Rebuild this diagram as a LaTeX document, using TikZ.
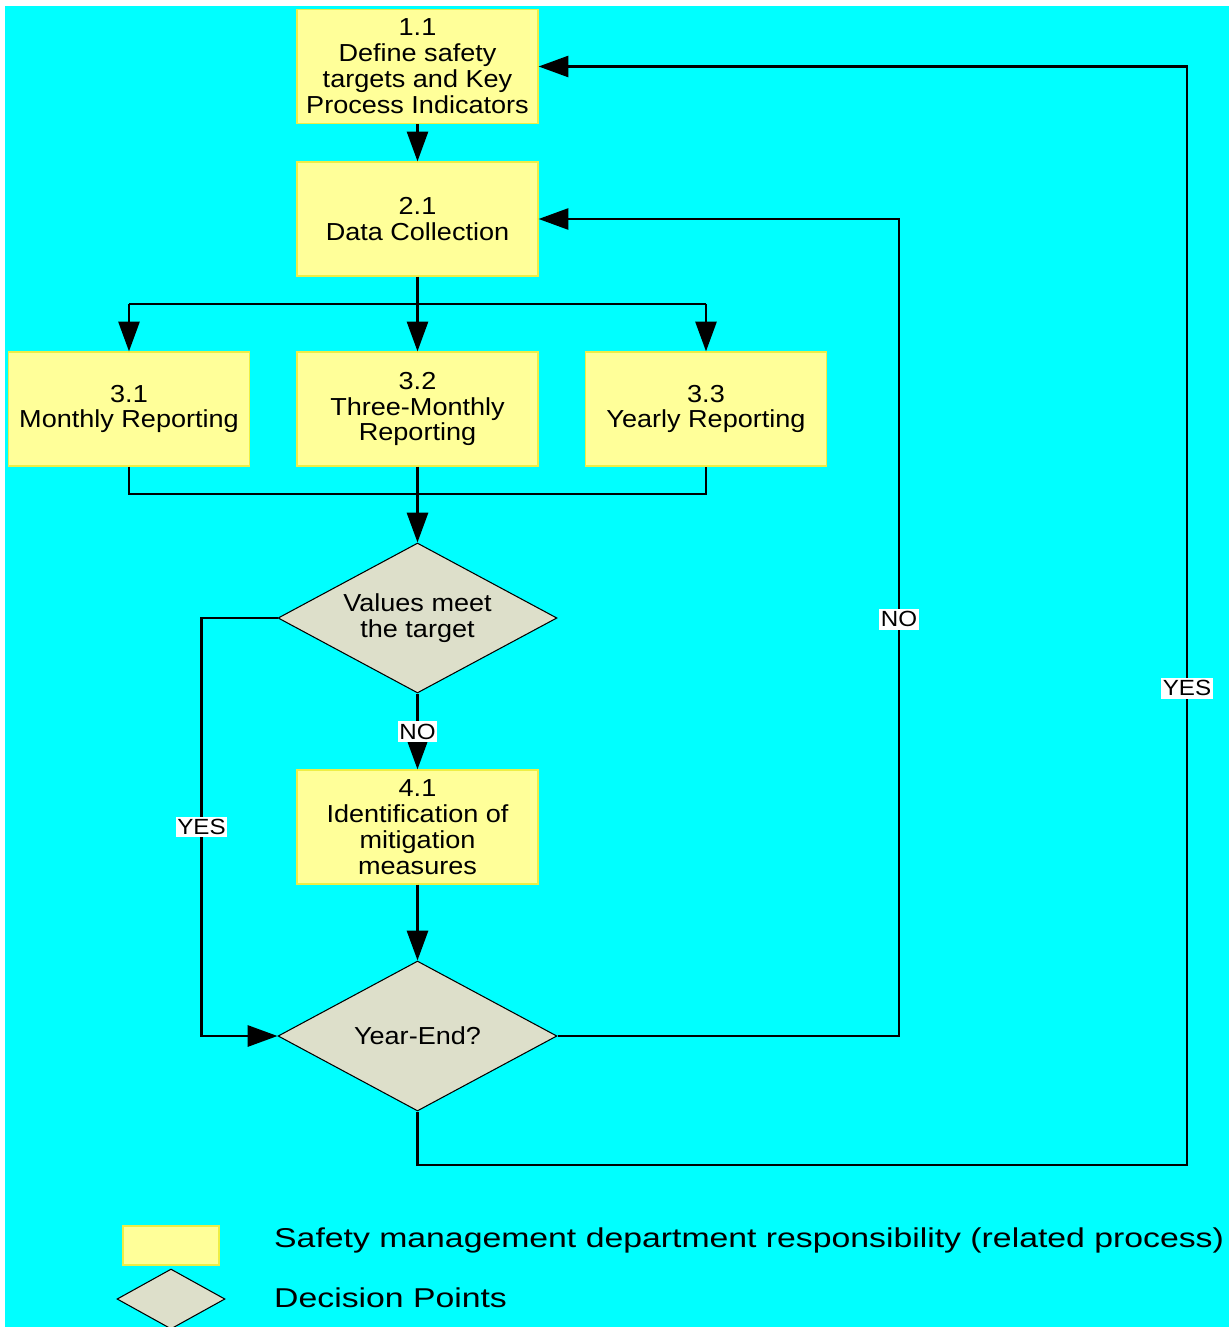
\documentclass[tikz,border=0pt]{standalone}
\usepackage{fontspec}
\setmainfont{Liberation Sans}
\newfontfamily\boxfont[FakeStretch=1.1]{Liberation Sans}
\newfontfamily\legfont[FakeStretch=1.24]{Liberation Sans}
\usetikzlibrary{shapes.geometric,arrows.meta}
\definecolor{bgcyan}{RGB}{0,255,255}
\definecolor{procfill}{RGB}{255,255,153}
\definecolor{procline}{RGB}{238,238,70}
\definecolor{decfill}{RGB}{221,223,202}

\begin{document}
\begin{tikzpicture}[x=0.02cm,y=-0.02cm,
  proc/.style={draw=procline,fill=procfill,line width=0.7pt,minimum width=4.82cm,minimum height=2.28cm,
    inner sep=0pt,align=center,font=\boxfont\fontsize{14}{14.75}\selectfont},
  dec/.style={diamond,draw=black,line width=0.6pt,fill=decfill,aspect=1.86,minimum width=5.58cm,
    minimum height=3cm,inner sep=0pt,align=center,font=\boxfont\fontsize{14}{14.75}\selectfont},
  wire/.style={line width=1.5pt},
  link/.style={wire,-{Triangle[length=17pt,width=12pt]}},
  lbl/.style={fill=white,inner xsep=1pt,inner ysep=1.5pt,font=\boxfont\fontsize{12.5}{12.5}\selectfont},
  keytext/.style={anchor=base west,font=\legfont\fontsize{15.5}{17}\selectfont}]
\useasboundingbox (0,0) rectangle (1229,1327);
\fill[bgcyan] (5,6) rectangle (1229,1327);

% process boxes and decisions
\node[proc] (p11) at (417.5,66.5) {1.1\\Define safety\\targets and Key\\Process Indicators};
\node[proc] (p21) at (417.5,219) {2.1\\Data Collection};
\node[proc] (p31) at (129,409) {3.1\\Monthly Reporting};
\node[proc] (p32) at (417.5,409) {3.2\\Three-Monthly\\Reporting};
\node[proc] (p33) at (706,409) {3.3\\Yearly Reporting};
\node[dec] (d1) at (417.5,618) {Values meet\\the target};
\node[proc] (p41) at (417.5,827) {4.1\\Identification of\\mitigation\\measures};
\node[dec] (d2) at (417.5,1036) {Year-End?};

% connectors
\draw[link] (p11) -- (p21);
\coordinate (split) at (417.5,304);
\coordinate (join) at (417.5,494);
\draw[wire] (p21.south) -- (split);
\draw[wire] (split -| p31) -- (split -| p33);
\foreach \n in {p31,p32,p33}
  \draw[link] (split -| \n) -- (\n.north);
\draw[wire] (p31.south) |- (join) -| (p33.south);
\draw[link] (p32.south) -- (d1.north);
\draw[link] (d1.south) -- node[lbl]{NO} (p41.north);
\draw[link] (p41) -- (d2);
\draw[link] (d1.west) -- ++(-76,0) |- node[lbl,pos=0.25]{YES} (d2.west);
\draw[link] (d2.east) -- ++(341.5,0) |- node[lbl,pos=0.255]{NO} (p21.east);
\draw[link] (d2.south) |- (1187,1165) |- node[lbl,pos=0.217]{YES} (p11.east);

% legend
\node[proc,minimum width=1.92cm,minimum height=0.78cm] (key1) at (171,1245.5) {};
\node[dec,minimum width=2.16cm,minimum height=1.2cm] (key2) at (171,1299) {};
\node[keytext] (keyt1) at (268,1247) {Safety management department responsibility (related process)};
\node[keytext] (keyt2) at (268,1307) {Decision Points};
\end{tikzpicture}
\end{document}
